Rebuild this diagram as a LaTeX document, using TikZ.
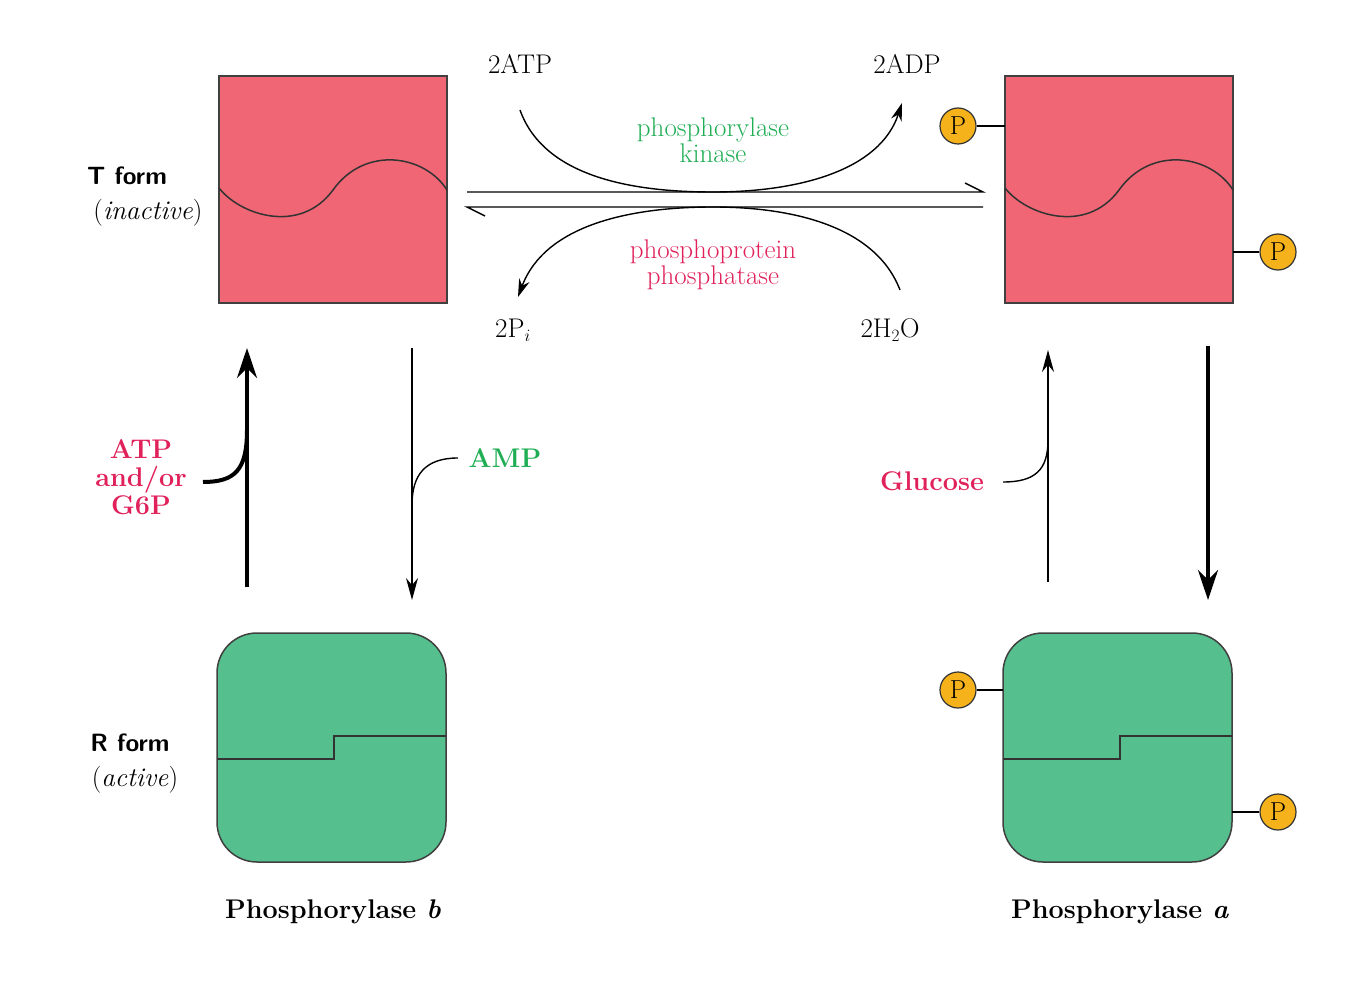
\documentclass[tikz,border=0pt]{standalone}
\usepackage{tikz}
\usetikzlibrary{arrows.meta}
\definecolor{boxred}{HTML}{F06674}
\definecolor{boxgreen}{HTML}{55BF8D}
\definecolor{txtred}{HTML}{E0215A}
\definecolor{txtgreen}{HTML}{1FAE54}
\definecolor{porange}{HTML}{F5B21A}
\begin{document}
\begin{tikzpicture}[x=1pt,y=-1pt,
  redbox/.style={draw=black!75,line width=1.5pt,fill=boxred},
  greenbox/.style={draw=black!75,line width=1.5pt,fill=boxgreen,rounded corners=40pt},
  pcirc/.style={circle,draw=black!80,line width=1.2pt,fill=porange,minimum size=36pt,inner sep=0pt,font=\fontsize{26}{28}\selectfont},
  lbl/.style={font=\fontsize{27}{32}\selectfont,align=center},
  blbl/.style={font=\fontsize{27}{32}\selectfont\bfseries,align=center},
  slbl/.style={font=\fontsize{25}{30}\selectfont\sffamily\bfseries},
  thin/.style={line width=1.4pt,-{Stealth[length=22pt,width=12pt]}},
  thick/.style={line width=4pt,-{Stealth[length=30pt,width=20pt]}},
  curv/.style={line width=1.4pt}]
\useasboundingbox (0,0) rectangle (1354,1000);
% boxes
\draw[redbox] (219,76) rectangle (447,303);
\draw[line width=1.5pt,black!80] (219,188) .. controls (240,215) and (300,235) .. (333,190) .. controls (365,145) and (425,155) .. (447,190);
\draw[redbox] (1005,76) rectangle (1233,303);
\draw[line width=1.5pt,black!80] (1005,188) .. controls (1026,215) and (1086,235) .. (1119,190) .. controls (1151,145) and (1211,155) .. (1233,190);
\draw[greenbox] (217,633) rectangle (446,862);
\draw[line width=1.5pt,black!80] (217,759) -- (334,759) -- (334,736) -- (446,736);
\draw[greenbox] (1003,633) rectangle (1232,862);
\draw[line width=1.5pt,black!80] (1003,759) -- (1120,759) -- (1120,736) -- (1232,736);
% P circles
\node[pcirc] (p1) at (958,126) {P};
\node[pcirc] (p2) at (1278,252) {P};
\node[pcirc] (p3) at (958,690) {P};
\node[pcirc] (p4) at (1278,812) {P};
\draw[line width=1.2pt] (p1.east) -- (1005,126);
\draw[line width=1.2pt] (p2.west) -- (1233,252);
\draw[line width=1.2pt] (p3.east) -- (1003,690);
\draw[line width=1.2pt] (p4.west) -- (1232,812);
% horizontal equilibrium arrows
\draw[line width=1.4pt] (467,192) -- (983,192) -- (965,183);
\draw[line width=1.4pt] (983,207) -- (467,207) -- (485,216);
% texts
\node[lbl] (atp) at (520,64) {2ATP};
\node[lbl] (adp) at (907,64) {2ADP};
\node[lbl,text=txtgreen] at (713,140) {phosphorylase\\[-6pt]kinase};
\node[lbl,text=txtred] at (713,265) {phosphoprotein\\[-6pt]phosphatase};
\node[lbl] (pi) at (513,330) {2P$_i$};
\node[lbl] (h2o) at (890,330) {2H$_2$O};
\draw[curv,-{Stealth[length=18pt,width=11pt]}] (520,110) .. controls (545,180) and (640,192) .. (713,192) .. controls (800,192) and (880,170) .. (902,103);
\draw[curv,-{Stealth[length=18pt,width=11pt]}] (900,290) .. controls (875,225) and (790,207) .. (713,207) .. controls (630,207) and (545,225) .. (518,297);
% left labels
\node[slbl] at (127,176) {T form};
\node[lbl] at (148,213) {(\textit{inactive})};
\node[slbl] at (130,743) {R form};
\node[lbl] at (135,780) {(\textit{active})};
% vertical arrows
\coordinate (a1s) at (247,587); \coordinate (a1e) at (247,348);
\draw[thick] (a1s) -- (a1e);
\draw[line width=4pt] (203,482) .. controls (235,482) and (247,470) .. (247,430);
\node[blbl,text=txtred] at (141,477) {ATP\\[-4pt]and/or\\[-4pt]G6P};
\coordinate (a2s) at (412,348); \coordinate (a2e) at (412,600);
\draw[thin] (a2s) -- (a2e);
\draw[curv] (458,458) .. controls (425,458) and (412,475) .. (412,505);
\node[blbl,text=txtgreen] at (505,458) {AMP};
\coordinate (a3s) at (1048,582); \coordinate (a3e) at (1048,350);
\draw[thin] (a3s) -- (a3e);
\draw[curv] (1003,482) .. controls (1035,482) and (1048,470) .. (1048,440);
\node[blbl,text=txtred] at (932,481) {Glucose};
\coordinate (a4s) at (1208,346); \coordinate (a4e) at (1208,600);
\draw[thick] (a4s) -- (a4e);
% bottom labels
\node[blbl] at (333,912) {Phosphorylase \textit{b}};
\node[blbl] at (1120,912) {Phosphorylase \textit{a}};
\end{tikzpicture}
\end{document}
